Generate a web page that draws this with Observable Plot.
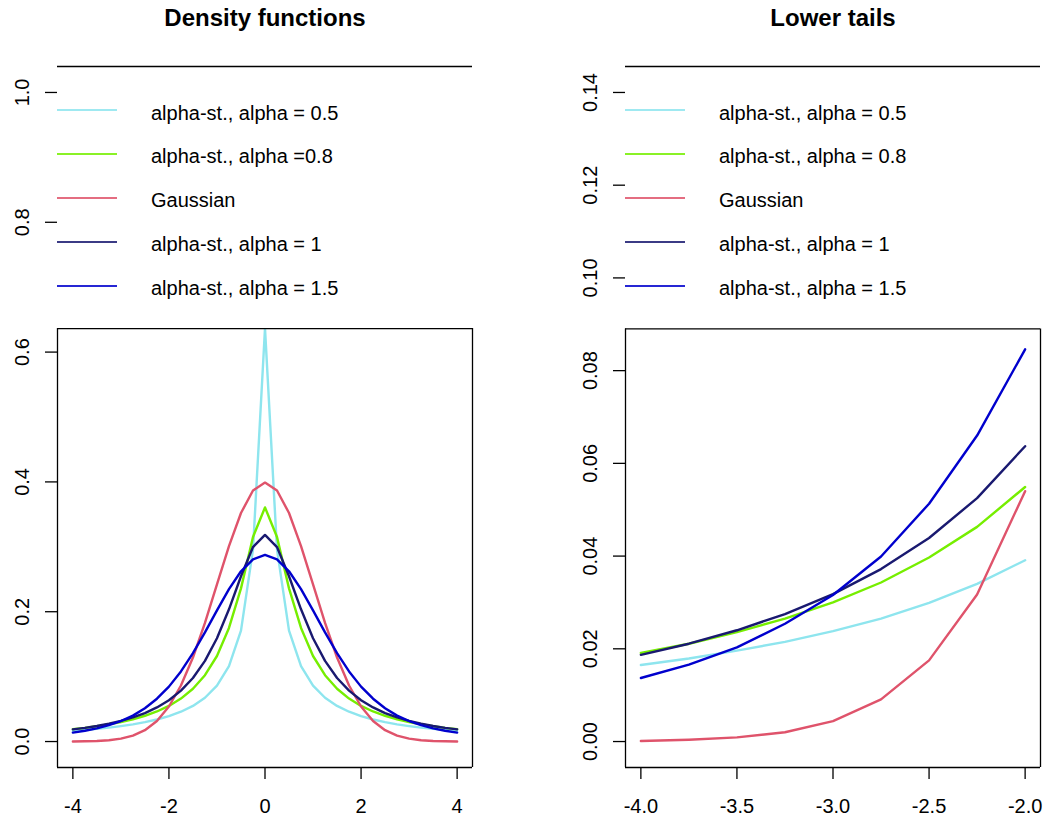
<!DOCTYPE html>
<html><head><meta charset="utf-8">
<script src="https://cdn.jsdelivr.net/npm/d3@7"></script>
<script src="https://cdn.jsdelivr.net/npm/@observablehq/plot@0.6"></script>
<style>
body{margin:0;background:#fff;}
#wrap{position:relative;width:1043px;height:822px;overflow:hidden;font-family:"Liberation Sans",Arial,sans-serif;}
.panel{position:absolute;top:0;height:822px;}
.panel svg{position:absolute;left:0;top:0;}
.lgline{position:absolute;height:2px;width:60px;opacity:0.85;}
.lgtext{position:absolute;font-size:20px;line-height:20px;white-space:nowrap;color:#000;}
</style></head><body><div id="wrap"></div>
<script>
// ---- data ----
const xGrid = [-4, -3.75, -3.5, -3.25, -3, -2.75, -2.5, -2.25, -2, -1.75, -1.5, -1.25, -1, -0.75, -0.5, -0.25, 0,
               0.25, 0.5, 0.75, 1, 1.25, 1.5, 1.75, 2, 2.25, 2.5, 2.75, 3, 3.25, 3.5, 3.75, 4];
const densAlpha05 = [0.0165, 0.0179, 0.0196, 0.0215, 0.0238, 0.0265, 0.0299, 0.0340, 0.0391, 0.0459, 0.0549, 0.0675, 0.0861, 0.1161, 0.1708, 0.2956, 0.6366,
                     0.2956, 0.1708, 0.1161, 0.0861, 0.0675, 0.0549, 0.0459, 0.0391, 0.0340, 0.0299, 0.0265, 0.0238, 0.0215, 0.0196, 0.0179, 0.0165];
const densAlpha08 = [0.0191, 0.0211, 0.0236, 0.0265, 0.0300, 0.0343, 0.0397, 0.0463, 0.0549, 0.0662, 0.0813, 0.1022, 0.1318, 0.1750, 0.2360, 0.3152, 0.3607,
                     0.3152, 0.2360, 0.1750, 0.1318, 0.1022, 0.0813, 0.0662, 0.0549, 0.0463, 0.0397, 0.0343, 0.0300, 0.0265, 0.0236, 0.0211, 0.0191];
const densGauss   = [0.0001, 0.0004, 0.0009, 0.0020, 0.0044, 0.0091, 0.0175, 0.0317, 0.0540, 0.0863, 0.1295, 0.1827, 0.2420, 0.3011, 0.3521, 0.3867, 0.3989,
                     0.3867, 0.3521, 0.3011, 0.2420, 0.1827, 0.1295, 0.0863, 0.0540, 0.0317, 0.0175, 0.0091, 0.0044, 0.0020, 0.0009, 0.0004, 0.0001];
const densAlpha1  = [0.0187, 0.0211, 0.0240, 0.0275, 0.0318, 0.0372, 0.0439, 0.0525, 0.0637, 0.0784, 0.0979, 0.1242, 0.1592, 0.2037, 0.2546, 0.2996, 0.3183,
                     0.2996, 0.2546, 0.2037, 0.1592, 0.1242, 0.0979, 0.0784, 0.0637, 0.0525, 0.0439, 0.0372, 0.0318, 0.0275, 0.0240, 0.0211, 0.0187];
const densAlpha15 = [0.0137, 0.0166, 0.0203, 0.0254, 0.0316, 0.0399, 0.0513, 0.0660, 0.0846, 0.1080, 0.1362, 0.1682, 0.2021, 0.2347, 0.2623, 0.2808, 0.2874,
                     0.2808, 0.2623, 0.2347, 0.2021, 0.1682, 0.1362, 0.1080, 0.0846, 0.0660, 0.0513, 0.0399, 0.0316, 0.0254, 0.0203, 0.0166, 0.0137];

const seriesValues = [densAlpha05, densAlpha08, densGauss, densAlpha1, densAlpha15];
const seriesColors = ["#8EE5EE", "#76EE00", "#DF536B", "#191970", "#0000CD"];
const legendLeft  = ["alpha-st., alpha = 0.5", "alpha-st., alpha =0.8", "Gaussian", "alpha-st., alpha = 1", "alpha-st., alpha = 1.5"];
const legendRight = ["alpha-st., alpha = 0.5", "alpha-st., alpha = 0.8", "Gaussian", "alpha-st., alpha = 1", "alpha-st., alpha = 1.5"];

const leftXTicks = [-4, -2, 0, 2, 4];
const leftXTickLabels = ["-4", "-2", "0", "2", "4"];
const leftYTicks = [0, 0.2, 0.4, 0.6, 0.8, 1.0];
const leftYTickLabels = ["0.0", "0.2", "0.4", "0.6", "0.8", "1.0"];
const rightXTicks = [-4, -3.5, -3, -2.5, -2];
const rightXTickLabels = ["-4.0", "-3.5", "-3.0", "-2.5", "-2.0"];
const rightYTicks = [0, 0.02, 0.04, 0.06, 0.08, 0.10, 0.12, 0.14];
const rightYTickLabels = ["0.00", "0.02", "0.04", "0.06", "0.08", "0.10", "0.12", "0.14"];

// ---- drawing ----
const FONT = "'Liberation Sans', Arial, Helvetica, sans-serif";
const wrap = document.getElementById("wrap");

function panel(cfg) {
  const div = document.createElement("div");
  div.className = "panel";
  div.style.left = cfg.left + "px";
  div.style.width = cfg.width + "px";
  const marks = [];
  seriesValues.forEach((vals, si) => {
    const rows = xGrid.map((x, i) => ({x, y: vals[i]}))
      .filter(r => r.x >= cfg.xRange[0] && r.x <= cfg.xRange[1]);
    marks.push(Plot.line(rows, {x: "x", y: "y", stroke: seriesColors[si], strokeWidth: 2.4}));
  });
  const [x0, x1] = cfg.xDomain, [y0, y1] = cfg.yDomain;
  // legend box (white, covers upper part of plot region)
  marks.push(Plot.rect([0], {x1: () => x0, x2: () => x1, y1: () => cfg.legendBottom, y2: () => y1, fill: "white"}));
  marks.push(Plot.ruleY([y0, y1, cfg.legendBottom], {stroke: "#000", strokeWidth: 1.3}));
  marks.push(Plot.ruleX([x0, x1], {y1: () => y0, y2: () => cfg.legendBottom, stroke: "#000", strokeWidth: 1.3}));
  marks.push(Plot.axisX(cfg.xTicks, {tickSize: 12, tickFormat: () => "", label: null, strokeWidth: 1.3}));
  marks.push(Plot.axisY(cfg.yTicks, {tickSize: 12, tickFormat: () => "", label: null, strokeWidth: 1.3}));
  marks.push(Plot.text(cfg.xTicks, {x: d => d, text: (d, i) => cfg.xTickLabels[i], frameAnchor: "bottom",
    lineAnchor: "bottom", dy: 45, fontSize: 20}));
  marks.push(Plot.text(cfg.yTicks, {y: d => d, text: (d, i) => cfg.yTickLabels[i], frameAnchor: "left",
    rotate: -90, textAnchor: "middle", lineAnchor: "bottom", dx: -28.5, fontSize: 20}));
  marks.push(Plot.text([cfg.title], {frameAnchor: "top", lineAnchor: "bottom", dy: -40.5, fontSize: 24, fontWeight: "bold"}));

  const svg = Plot.plot({
    width: cfg.width, height: 822,
    marginLeft: cfg.marginLeft, marginRight: cfg.marginRight, marginTop: 66, marginBottom: 55,
    x: {domain: cfg.xDomain, label: null},
    y: {domain: cfg.yDomain, label: null},
    style: {fontFamily: FONT, fontSize: "20px", background: "transparent", color: "#000"},
    marks
  });
  div.appendChild(svg);

  // legend entries
  cfg.legend.forEach((lab, i) => {
    const ly = 110 + i * 43.93;
    const ln = document.createElement("div");
    ln.className = "lgline";
    ln.style.left = cfg.marginLeft + "px";
    ln.style.top = Math.round(ly - 1) + "px";
    ln.style.background = seriesColors[i];
    div.appendChild(ln);
    const tx = document.createElement("div");
    tx.className = "lgtext";
    tx.style.left = (cfg.marginLeft + 94) + "px";
    tx.style.top = (ly - 7.5) + "px";
    tx.textContent = lab;
    div.appendChild(tx);
  });
  wrap.appendChild(div);
}

panel({
  left: 0, width: 521, marginLeft: 57, marginRight: 49,
  xDomain: [-4.32, 4.32], yDomain: [-0.04, 1.04], legendBottom: 0.6363, xRange: [-4, 4],
  xTicks: leftXTicks, xTickLabels: leftXTickLabels, yTicks: leftYTicks, yTickLabels: leftYTickLabels,
  title: "Density functions", legend: legendLeft
});
panel({
  left: 521, width: 522, marginLeft: 104, marginRight: 3,
  xDomain: [-4.08, -1.92], yDomain: [-0.0056, 0.1456], legendBottom: 0.0890, xRange: [-4, -2],
  xTicks: rightXTicks, xTickLabels: rightXTickLabels, yTicks: rightYTicks, yTickLabels: rightYTickLabels,
  title: "Lower tails", legend: legendRight
});
</script>
</body></html>
